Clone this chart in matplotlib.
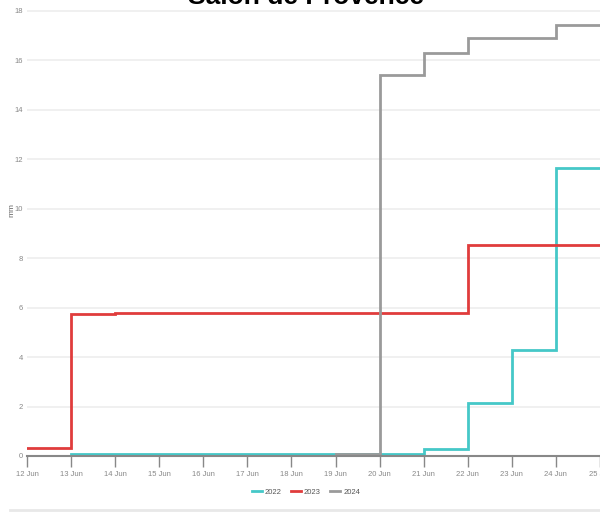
import numpy as np
import matplotlib
matplotlib.use('Agg')
import matplotlib.pyplot as plt
from matplotlib.lines import Line2D

# Daily cumulative rainfall (mm), value held from that day to the next
days = [12, 13, 14, 15, 16, 17, 18, 19, 20, 21, 22, 23, 24, 25]
dayLabels = ['%d Jun' % d for d in days]
rain2022 = [0, 0.1, 0.1, 0.1, 0.1, 0.1, 0.1, 0.1, 0.1, 0.3, 2.15, 4.3, 11.65, 11.65]
rain2023 = [0.33, 5.73, 5.8, 5.8, 5.8, 5.8, 5.8, 5.8, 5.8, 5.8, 8.52, 8.52, 8.52, 8.52]
rain2024 = [0, 0, 0, 0, 0, 0, 0, 0.1, 15.4, 16.3, 16.9, 16.9, 17.42, 17.42]
years = ['2022', '2023', '2024']
colors = ['#45c8c8', '#e03c3c', '#9a9a9a']
yTicks = [0, 2, 4, 6, 8, 10, 12, 14, 16, 18]

plt.rcParams['font.family'] = ['Liberation Sans', 'DejaVu Sans']

fig = plt.figure(figsize=(6, 5.13), dpi=100)
ax = fig.add_axes([27 / 600, 57 / 513, 573 / 600, 450 / 513])

for series, col in zip([rain2022, rain2023, rain2024], colors):
    ax.plot(days, series, drawstyle='steps-post', color=col, lw=2, solid_joinstyle='miter')

ax.set_xlim(12, 12 + 573 / 44.3)
ax.set_ylim(0, 18.2)

ax.set_xticks(days)
ax.set_xticklabels(dayLabels, fontsize=5.5, color='#888888')
ax.set_yticks(yTicks)
ax.set_yticklabels([str(t) for t in yTicks], fontsize=5.5, color='#888888')
ax.tick_params(axis='x', length=8, width=1, color='#888888', pad=3)
ax.tick_params(axis='y', length=0, pad=3)

ax.grid(axis='y', color='#eeeeee', lw=1.2)
ax.set_axisbelow(True)
for side in ['top', 'right', 'left']:
    ax.spines[side].set_visible(False)
ax.spines['bottom'].set_color('#888888')
ax.spines['bottom'].set_linewidth(1.5)

fig.text(12 / 600, 1 - 210 / 513, 'mm', rotation=90, fontsize=6, color='#666666', ha='center', va='center')

fig.text(306 / 600, 1 - 4 / 513, 'Salon de Provence', ha='center', va='baseline',
         fontsize=19, fontweight='bold')

handles = [Line2D([0], [0], color=c, lw=2) for c in colors]
fig.legend(handles, years, loc='center', bbox_to_anchor=(306 / 600, 1 - 492 / 513), ncol=3,
           frameon=False, fontsize=5.5, handlelength=1.3, handletextpad=0.4, columnspacing=1.2,
           labelcolor='#555555')

fig.add_artist(Line2D([10 / 600, 1], [1 - 510 / 513, 1 - 510 / 513], color='#e8e8e8', lw=2))

fig.savefig('out.png', dpi=100)
